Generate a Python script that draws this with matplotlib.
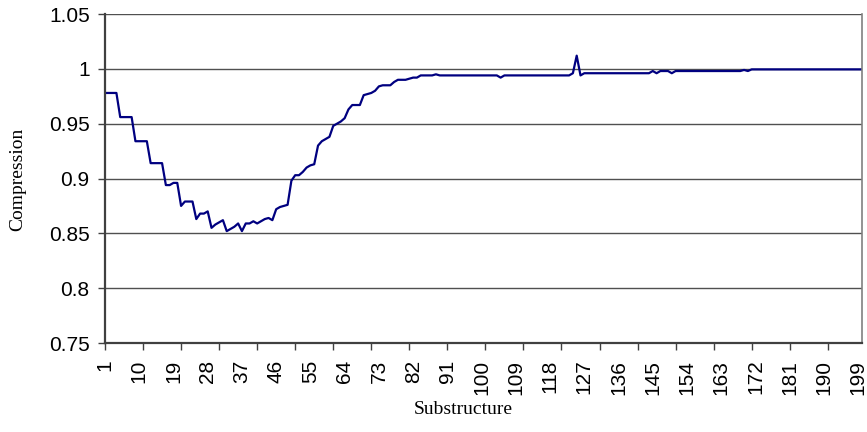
import numpy as np
import matplotlib.pyplot as plt
from matplotlib.ticker import FixedLocator, NullFormatter

# compression per substructure
compression = [
    0.978, 0.978, 0.978, 0.978, 0.956, 0.956, 0.956, 0.956, 0.934, 0.934,
    0.934, 0.934, 0.914, 0.914, 0.914, 0.914, 0.894, 0.894, 0.896, 0.896,
    0.875, 0.879, 0.879, 0.879, 0.863, 0.868, 0.868, 0.870, 0.855, 0.858,
    0.860, 0.862, 0.852, 0.854, 0.856, 0.859, 0.852, 0.859, 0.859, 0.861,
    0.859, 0.861, 0.863, 0.864, 0.862, 0.872, 0.874, 0.875, 0.876, 0.898,
    0.903, 0.903, 0.906, 0.910, 0.912, 0.913, 0.930, 0.934, 0.936, 0.938,
    0.948, 0.950, 0.952, 0.955, 0.963, 0.967, 0.967, 0.967, 0.976, 0.977,
    0.978, 0.980, 0.984, 0.985, 0.985, 0.985, 0.988, 0.990, 0.990, 0.990,
    0.991, 0.992, 0.992, 0.994, 0.994, 0.994, 0.994, 0.995, 0.994, 0.994,
    0.994, 0.994, 0.994, 0.994, 0.994, 0.994, 0.994, 0.994, 0.994, 0.994,
    0.994, 0.994, 0.994, 0.994, 0.992, 0.994, 0.994, 0.994, 0.994, 0.994,
    0.994, 0.994, 0.994, 0.994, 0.994, 0.994, 0.994, 0.994, 0.994, 0.994,
    0.994, 0.994, 0.994, 0.996, 1.012, 0.994, 0.996, 0.996, 0.996, 0.996,
    0.996, 0.996, 0.996, 0.996, 0.996, 0.996, 0.996, 0.996, 0.996, 0.996,
    0.996, 0.996, 0.996, 0.996, 0.998, 0.996, 0.998, 0.998, 0.998, 0.996,
    0.998, 0.998, 0.998, 0.998, 0.998, 0.998, 0.998, 0.998, 0.998, 0.998,
    0.998, 0.998, 0.998, 0.998, 0.998, 0.998, 0.998, 0.998, 0.999, 0.998,
    0.9995, 0.9995, 0.9995, 0.9995, 0.9995, 0.9995, 0.9995, 0.9995, 0.9995, 0.9995,
    0.9995, 0.9995, 0.9995, 0.9995, 0.9995, 0.9995, 0.9995, 0.9995, 0.9995, 0.9995,
    0.9995, 0.9995, 0.9995, 0.9995, 0.9995, 0.9995, 0.9995, 0.9995, 0.9995, 0.9995,
]
substructure = np.arange(1, len(compression) + 1)

label_pos = np.arange(1, 200, 9)   # 1, 10, 19, ... 199
tick_pos = np.arange(1, 200, 10)   # tick marks every 10
y_ticks = [0.75, 0.8, 0.85, 0.9, 0.95, 1, 1.05]
y_labels = ['0.75', '0.8', '0.85', '0.9', '0.95', '1', '1.05']

fig = plt.figure(figsize=(8.67, 4.32), dpi=100)
ax = fig.add_axes([105 / 867, 89 / 432, 757 / 867, 329 / 432])

ax.plot(substructure, compression, color='#000080', lw=1.6)

ax.set_xlim(1, 200)
ax.set_ylim(0.75, 1.05)

# y axis
ax.set_yticks(y_ticks)
ax.set_yticklabels(y_labels, fontfamily='Liberation Sans', fontsize=15)
ax.tick_params(axis='y', length=5, width=1, color='#404040', pad=6)
for y in y_ticks[1:]:
    ax.axhline(y, color='#505050', lw=1.0, zorder=0)

# x axis: marks every 10, labels every 9
ax.xaxis.remove_overlapping_locs = False
ax.xaxis.set_major_locator(FixedLocator(tick_pos))
ax.xaxis.set_major_formatter(NullFormatter())
ax.xaxis.set_minor_locator(FixedLocator(label_pos))
ax.set_xticklabels([str(v) for v in label_pos], minor=True, rotation=90,
                   fontfamily='Liberation Sans', fontsize=15)
ax.tick_params(axis='x', which='major', length=5, width=1, color='#404040')
ax.tick_params(axis='x', which='minor', length=0, pad=12)

for s in ['left', 'bottom']:
    ax.spines[s].set_color('#404040')
    ax.spines[s].set_linewidth(1.6)
ax.spines['right'].set_color('#808080')
ax.spines['right'].set_linewidth(1.2)
ax.spines['top'].set_visible(False)

fig.text(18 / 867, 1 - 179 / 432, 'Compression', rotation=90, ha='center', va='center',
         fontfamily='Liberation Serif', fontsize=14)
fig.text(463 / 867, 1 - 410 / 432, 'Substructure', ha='center', va='center',
         fontfamily='Liberation Serif', fontsize=14)

fig.savefig('out.png', dpi=100)
